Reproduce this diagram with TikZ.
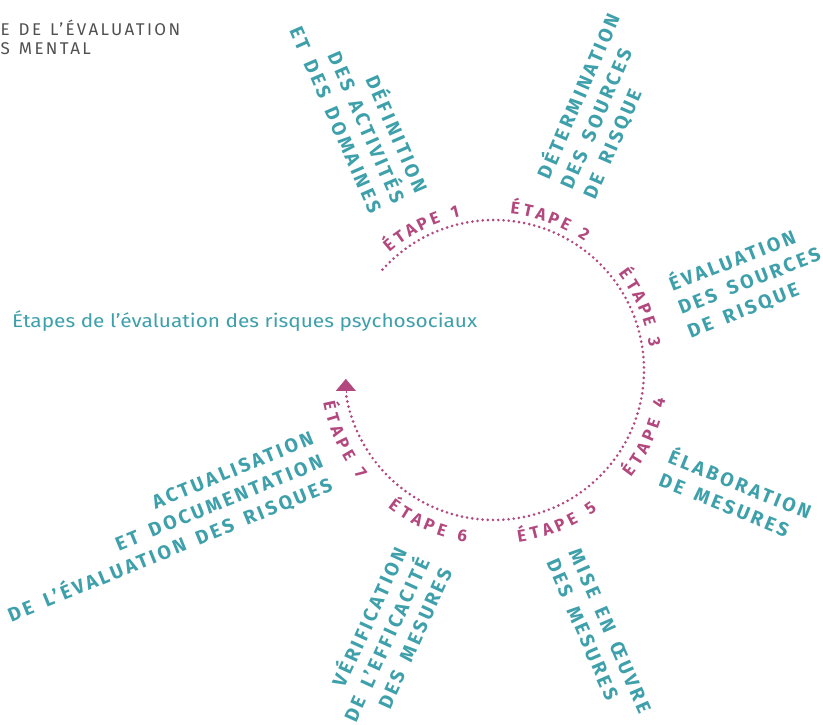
\documentclass[tikz,border=0pt]{standalone}
\usepackage{fontspec}
\usepackage{graphicx}
\setmainfont{Fira Sans}
\newfontfamily\labelfont[LetterSpace=15,WordSpace=1.6]{Fira Sans}
\newfontfamily\headfont[LetterSpace=14,WordSpace=1.3]{Fira Sans}
\usetikzlibrary{calc,arrows.meta}

\definecolor{stepteal}{HTML}{3EA0AA}
\definecolor{stepmagenta}{HTML}{B2487E}
\definecolor{headgray}{HTML}{505050}

% One "ÉTAPE n" label, letter by letter along the circle.
% #1 middle angle, #2 = 1 (clockwise, letters upright outward) or -1 (counter-clockwise, letters upright inward),
% #3 baseline radius, #4 step number
\newcommand\steplabel[4]{%
  \foreach \ch/\pos [count=\k] in {É/0,T/1,A/2,P/3,E/4,#4/5.6}{
    \pgfmathsetmacro\ang{#1-(#2)*(\pos-2.8)*13.3/(#3+(#2)*6)*57.2958}
    \pgfmathsetmacro\rot{\ang-(#2)*90}
    \node[etape, rotate=\rot, anchor=base] (s#4l\k) at ($(c)+(\ang:#3)$) {\ch};
  }}

\begin{document}
\begin{tikzpicture}[x=1pt,y=1pt,
  stepdesc/.style={text=stepteal, inner sep=0pt,
    font=\labelfont\bfseries\fontsize{19.5}{25}\selectfont},
  etape/.style={text=stepmagenta, inner sep=0pt,
    font=\bfseries\fontsize{17}{17}\selectfont},
  headtext/.style={text=headgray, inner sep=0pt,
    font=\headfont\fontsize{17}{20}\selectfont},
  dotline/.style={draw=stepmagenta, line width=2.9pt, line cap=round,
    dash pattern=on 0pt off 5.2pt},
  tipline/.style={draw=stepmagenta, line width=0.3pt,
    -{Triangle[length=12pt,width=20pt]}}]

\useasboundingbox (0,0) rectangle (823,725);
\fill[white] (0,0) rectangle (823,725);
\clip (0,0) rectangle (823,725);

% header
\node[headtext, anchor=base west] (hd1) at (0.5,689.5) {E DE L’ÉVALUATION};
\node[headtext, anchor=base west] (hd2) at (0.5,670) {S MENTAL};

% title
\node[text=stepteal, inner sep=0pt, anchor=base west,
  font=\fontsize{18.5}{20}\selectfont] (title) at (12,397)
  {\resizebox{465pt}{\height}{Étapes de l’évaluation des risques psychosociaux}};

% cycle
\coordinate (c) at (494,355);
\coordinate (arcstart) at ($(c)+(138:150)$);
\draw[dotline] (arcstart) arc[start angle=138, end angle=-171, radius=150] coordinate (arcend);
\coordinate (tip) at ($(arcend)+(0,14.5)$);
\draw[tipline] (arcend) -- (tip);

% step labels
\steplabel{117}{1}{157}{1}
\steplabel{69.4}{1}{157}{2}
\steplabel{23}{1}{157}{3}
\steplabel{-24}{-1}{174}{4}
\steplabel{-67.8}{-1}{174}{5}
\steplabel{-113.5}{-1}{174}{6}
\steplabel{-155}{-1}{174}{7}

% step descriptions
\node[stepdesc, align=right, rotate=-66.5] (d1) at (361,616) {DÉFINITION\\DES ACTIVITÉS\\ET DES DOMAINES};
\node[stepdesc, align=left, rotate=66.5] (d2) at (601,619) {DÉTERMINATION\\DES SOURCES\\DE RISQUE};
\node[stepdesc, align=left, rotate=21.5] (d3) at (749,445) {ÉVALUATION\\DES SOURCES\\DE RISQUE};
\node[stepdesc, align=left, rotate=-22] (d4) at (736,231) {ÉLABORATION\\DE MESURES};
\node[stepdesc, align=left, rotate=-66.5] (d5) at (599,89) {MISE EN ŒUVRE\\DES MESURES};
\node[stepdesc, align=right, rotate=65.5] (d6) at (385,86) {VÉRIFICATION\\DE L’EFFICACITÉ\\DES MESURES};
\node[stepdesc, align=right, rotate=22.3] (d7) at (161,197) {ACTUALISATION\\ET DOCUMENTATION\\DE L’ÉVALUATION DES RISQUES};
\end{tikzpicture}
\end{document}
